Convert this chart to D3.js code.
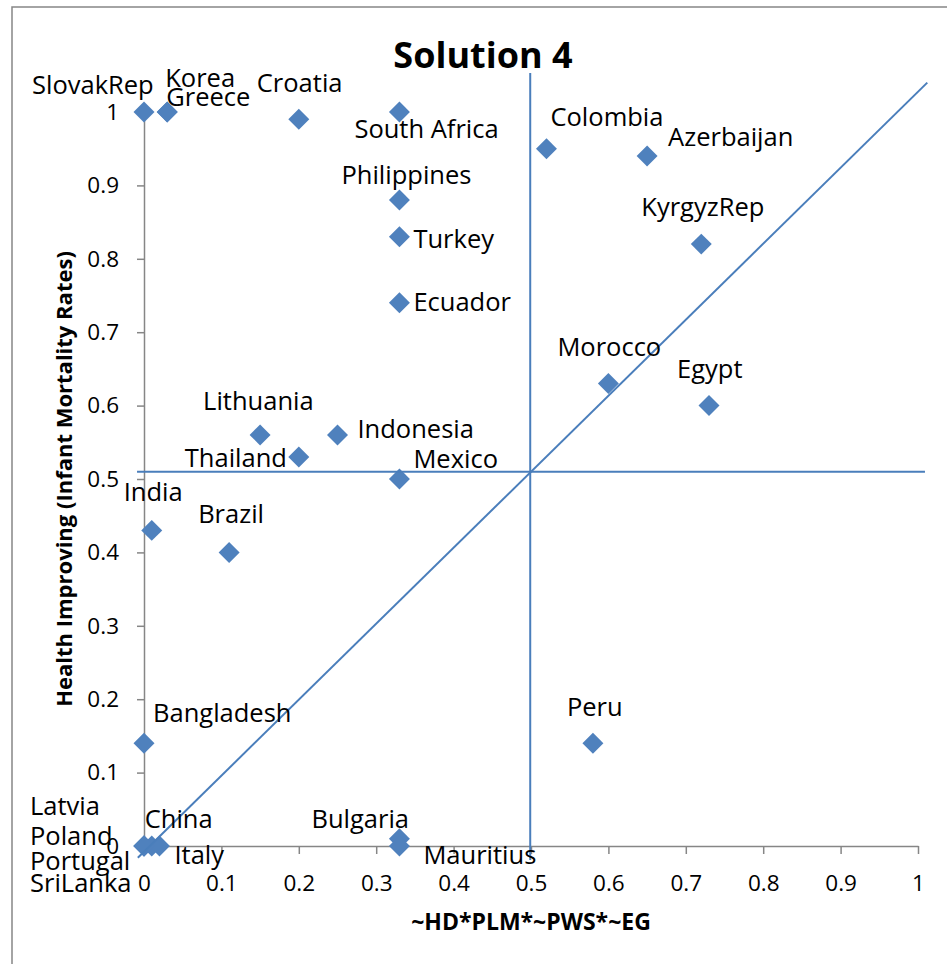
<!DOCTYPE html>
<html>
<head>
<meta charset="utf-8">
<script src="https://cdn.jsdelivr.net/npm/d3@7"></script>
<style>
  html, body { margin: 0; padding: 0; background: #fff; }
  svg { display: block; font-family: "Open Sans", sans-serif; }
</style>
</head>
<body>
<div id="chart"></div>
<script>
// Scatter of countries: ~HD*PLM*~PWS*~EG vs health improving.

const countries = ["SlovakRep","Korea","Greece","Croatia","South Africa","Philippines","Turkey","Ecuador",
  "Colombia","Azerbaijan","KyrgyzRep","Morocco","Egypt","Lithuania","Indonesia","Thailand","Mexico",
  "India","Brazil","Bangladesh","Peru","Bulgaria","Mauritius","China","Italy",
  "Latvia","Poland","Portugal","SriLanka"];
const xValues = [0,0.03,0.03,0.2,0.33,0.33,0.33,0.33,
  0.52,0.65,0.72,0.6,0.73,0.15,0.25,0.2,0.33,
  0.01,0.11,0,0.58,0.33,0.33,0.01,0.02,
  0,0,0,0];
const yValues = [1,1,1,0.99,1,0.88,0.83,0.74,
  0.95,0.94,0.82,0.63,0.6,0.56,0.56,0.53,0.5,
  0.43,0.4,0.14,0.14,0.01,0,0,0,
  0,0,0,0];

// where each data label sits relative to its marker (px)
const labelNudge = [[-112,-18],[-2,-25],[-1,-6],[-42,-27],[-45,26],[-58,-16],[14,11],[14,8],
  [4,-23],[21,-10],[-60,-28],[-51,-28],[-32,-28],[-57,-25],[20,3],[-114,10],[14,-11],
  [-28,-29],[-31,-29],[9,-21],[-26,-27],[-88,-11],[24,18],[-7,-18],[15,18],
  [-114,-31],[-114,-1],[-114,24],[-114,46]];

const tickValues = [0,0.1,0.2,0.3,0.4,0.5,0.6,0.7,0.8,0.9,1];
const tickLabels = ["0","0.1","0.2","0.3","0.4","0.5","0.6","0.7","0.8","0.9","1"];

// quadrant / diagonal reference lines, in data units
const refLines = [
  [[0.499,1.053],[0.499,-0.019]],
  [[-0.009,0.51],[1.009,0.51]],
  [[-0.008,-0.016],[1.012,1.04]],
];

const W = 947, H = 964;
const plot = { left: 144, right: 918, top: 112, bottom: 846 };
const BLUE = "#4F81BD", GRID = "#868686";

const svg = d3.select("#chart").append("svg").attr("width", W).attr("height", H);

svg.append("rect")
  .attr("x", 12).attr("y", 7).attr("width", W + 20).attr("height", H + 20)
  .attr("fill", "#fff").attr("stroke", GRID).attr("stroke-width", 1.5);

const x = d3.scaleLinear().domain([0, 1]).range([plot.left, plot.right]);
const y = d3.scaleLinear().domain([0, 1]).range([plot.bottom, plot.top]);

const fmt = v => tickLabels[tickValues.indexOf(v)];

const gx = svg.append("g").attr("transform", `translate(0,${plot.bottom})`)
  .call(d3.axisBottom(x).tickValues(tickValues).tickFormat(fmt).tickSize(8).tickSizeOuter(0).tickPadding(21));
const gy = svg.append("g").attr("transform", `translate(${plot.left},0)`)
  .call(d3.axisLeft(y).tickValues(tickValues).tickFormat(fmt).tickSize(7).tickSizeOuter(0).tickPadding(18));

[gx, gy].forEach(g => {
  g.select(".domain").attr("stroke", GRID).attr("stroke-width", 1.5);
  g.selectAll(".tick line").attr("stroke", GRID).attr("stroke-width", 1.5);
  g.selectAll(".tick text").attr("fill", "#000").style("font-size", "22.5px").style("font-family", "Open Sans");
});

// markers
const pts = countries.map((c, i) => ({ name: c, x: xValues[i], y: yValues[i], nudge: labelNudge[i] }));
const diamond = d3.symbol().type(d3.symbolSquare).size(220);
svg.append("g").selectAll("path.pt")
  .data(pts).enter().append("path")
  .attr("class", "pt")
  .attr("d", diamond)
  .attr("fill", BLUE)
  .attr("transform", d => `translate(${x(d.x)},${y(d.y)}) rotate(45)`);

// reference lines
const line = d3.line().x(d => x(d[0])).y(d => y(d[1]));
svg.append("g").selectAll("path.ref")
  .data(refLines).enter().append("path")
  .attr("class", "ref")
  .attr("d", line)
  .attr("fill", "none")
  .attr("stroke", "#4A7EBB")
  .attr("stroke-width", 2);

// data labels
svg.append("g").selectAll("text.lbl")
  .data(pts).enter().append("text")
  .attr("class", "lbl")
  .attr("x", d => x(d.x) + d.nudge[0])
  .attr("y", d => y(d.y) + d.nudge[1])
  .style("font-size", "25.5px")
  .attr("fill", "#000")
  .text(d => d.name);

// titles
svg.append("text")
  .attr("x", 483).attr("y", 68)
  .attr("text-anchor", "middle")
  .style("font-size", "36px").style("font-weight", "bold")
  .text("Solution 4");

svg.append("text")
  .attr("x", (plot.left + plot.right) / 2).attr("y", 930)
  .attr("text-anchor", "middle")
  .style("font-size", "23px").style("font-weight", "bold")
  .text("~HD*PLM*~PWS*~EG");

svg.append("text")
  .attr("transform", `translate(72,${(plot.top + plot.bottom) / 2}) rotate(-90)`)
  .attr("text-anchor", "middle")
  .style("font-size", "22px").style("font-weight", "bold")
  .text("Health Improving (Infant Mortality Rates)");
</script>
</body>
</html>
